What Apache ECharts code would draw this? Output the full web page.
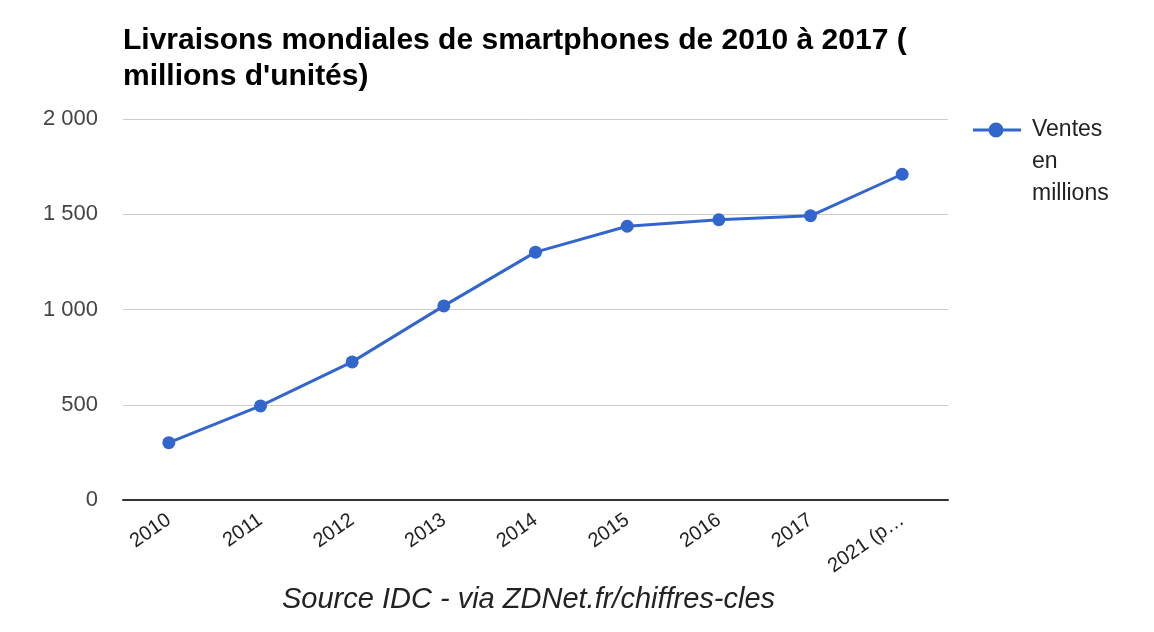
<!DOCTYPE html>
<html><head><meta charset="utf-8">
<script src="https://cdn.jsdelivr.net/npm/echarts@6/dist/echarts.min.js"></script>
<style>html,body{margin:0;padding:0;background:#fff}#c{width:1154px;height:632px}</style>
</head><body><div id="c"></div>
<script>
var categories = ['2010','2011','2012','2013','2014','2015','2016','2017','2021 (p…'];
var ventes = [301, 494, 725, 1019, 1301, 1437, 1471, 1492, 1710];
var yTicks = [0, 500, 1000, 1500, 2000];
var seriesName = 'Ventes\nen\nmillions';
var titleText = "Livraisons mondiales de smartphones de 2010 à 2017 (\nmillions d'unités)";
var sourceText = 'Source IDC - via ZDNet.fr/chiffres-cles';

var chart = echarts.init(document.getElementById('c'));
chart.setOption({
  animation: false,
  title: [{
    text: titleText, left: 118, top: 18,
    textStyle: {fontFamily: 'Liberation Sans', fontWeight: 'bold', fontSize: 30, color: '#000', lineHeight: 36}
  },{
    text: sourceText, left: 277, top: 580,
    textStyle: {fontFamily: 'Liberation Sans', fontStyle: 'italic', fontWeight: 'normal', fontSize: 29, color: '#222'}
  }],
  legend: {
    orient: 'vertical', left: 968, top: 45,
    itemWidth: 48, itemHeight: 15,
    formatter: function(name){ return '\n\n' + name; },
    textStyle: {fontFamily: 'Liberation Sans', fontSize: 23, color: '#222', lineHeight: 32, padding: [0, 0, 0, 6]},
    data: [{name: seriesName, icon: 'path://M0,6.5 L48,6.5 L48,9.5 L0,9.5 Z M30.5,8 A7.5,7.5 0 1,1 15.5,8 A7.5,7.5 0 1,1 30.5,8 Z'}]
  },
  grid: {left: 123, right: 206, top: 119, bottom: 132},
  xAxis: {
    type: 'category', data: categories, boundaryGap: true,
    axisLine: {lineStyle: {color: '#333', width: 2}},
    axisTick: {show: false},
    axisLabel: {rotate: 35, fontFamily: 'Liberation Sans', fontSize: 20, color: '#222', margin: 18, interval: 0}
  },
  yAxis: {
    type: 'value', min: yTicks[0], max: yTicks[yTicks.length - 1], interval: yTicks[1] - yTicks[0],
    axisLine: {show: false}, axisTick: {show: false},
    splitLine: {lineStyle: {color: '#ccc', width: 1}},
    axisLabel: {fontFamily: 'Liberation Sans', fontSize: 22, color: '#444', margin: 25,
      formatter: function(v){ return v >= 1000 ? Math.floor(v/1000) + ' ' + String(v%1000).padStart(3,'0') : String(v); }}
  },
  series: [{
    name: seriesName, type: 'line', data: ventes,
    symbol: 'circle', symbolSize: 13,
    lineStyle: {color: '#3366cc', width: 3},
    itemStyle: {color: '#3366cc'}
  }]
});
</script></body></html>
